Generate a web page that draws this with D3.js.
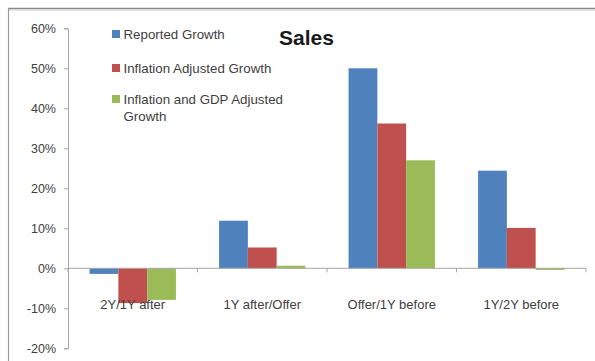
<!DOCTYPE html>
<html>
<head>
<meta charset="utf-8">
<script src="https://cdn.jsdelivr.net/npm/d3@7"></script>
<style>
  html, body { margin: 0; padding: 0; background: #fff; }
  svg { display: block; }
  text { font-family: "Liberation Sans", Arial, sans-serif; fill: #404040; }
</style>
</head>
<body>
<svg id="chart" width="595" height="361"></svg>
<script>
// Sales growth by period
const categories = ["2Y/1Y after", "1Y after/Offer", "Offer/1Y before", "1Y/2Y before"];
const seriesNames = ["Reported Growth", "Inflation Adjusted Growth", "Inflation and GDP Adjusted Growth"];
const reportedGrowth = [-0.014, 0.119, 0.50, 0.244];
const inflationAdjusted = [-0.087, 0.052, 0.362, 0.101];
const inflationGdpAdjusted = [-0.079, 0.0065, 0.27, -0.004];
const yTicks = [-0.2, -0.1, 0, 0.1, 0.2, 0.3, 0.4, 0.5, 0.6];
const colors = ["#4F81BD", "#C0504D", "#9BBB59"];

const values = [reportedGrowth, inflationAdjusted, inflationGdpAdjusted];
const rows = [];
categories.forEach((c, i) => {
  seriesNames.forEach((s, j) => rows.push({ category: c, series: s, value: values[j][i], color: colors[j] }));
});

const svg = d3.select("#chart");

// frame (top and left edges)
svg.append("line").attr("x1", 8).attr("x2", 595).attr("y1", 8.5).attr("y2", 8.5)
  .attr("stroke", "#8a8a8a").attr("stroke-width", 1.5);
svg.append("line").attr("x1", 8.5).attr("x2", 595).attr("y1", 10).attr("y2", 10)
  .attr("stroke", "#d0d0d0").attr("stroke-width", 1);
svg.append("line").attr("x1", 8.5).attr("x2", 8.5).attr("y1", 8).attr("y2", 361)
  .attr("stroke", "#9a9a9a").attr("stroke-width", 1.2);

const plotLeft = 68, plotRight = 586;
const y = d3.scaleLinear().domain([-0.2, 0.6]).range([348.3, 28.3]);
const x0 = d3.scaleBand().domain(categories).range([plotLeft, plotRight]).padding(0);
const x1 = d3.scaleBand().domain(seriesNames).range([0, x0.bandwidth()]).paddingInner(0).paddingOuter(0.75);

// percent labels with a plain hyphen for negatives
const pct = d => `${Math.round(d * 100)}%`;

// y axis
const yAxis = d3.axisLeft(y).tickValues(yTicks).tickFormat(pct).tickSize(4).tickPadding(8);
const gy = svg.append("g").attr("transform", `translate(${plotLeft},0)`).call(yAxis);
gy.select(".domain").attr("stroke", "#a6a6a6");
gy.selectAll(".tick line").attr("stroke", "#a6a6a6");
gy.selectAll(".tick text").style("font-size", "12.5px").attr("fill", "#404040")
  .style("font-family", "'Liberation Sans', Arial, sans-serif");

// bars
svg.append("g").selectAll("rect").data(rows).join("rect")
  .attr("x", d => x0(d.category) + x1(d.series))
  .attr("width", x1.bandwidth())
  .attr("y", d => Math.min(y(d.value), y(0)))
  .attr("height", d => Math.abs(y(d.value) - y(0)))
  .attr("fill", d => d.color);

// category axis along zero
svg.append("line").attr("x1", plotLeft).attr("x2", plotRight).attr("y1", y(0)).attr("y2", y(0))
  .attr("stroke", "#a6a6a6");
const boundaries = categories.map(c => x0(c)).concat([plotRight]);
svg.append("g").selectAll("line").data(boundaries).join("line")
  .attr("x1", d => d).attr("x2", d => d)
  .attr("y1", y(0)).attr("y2", y(0) + 4)
  .attr("stroke", "#a6a6a6");

// category labels
svg.append("g").selectAll("text").data(categories).join("text")
  .attr("x", d => x0(d) + x0.bandwidth() / 2)
  .attr("y", 309)
  .attr("text-anchor", "middle")
  .style("font-size", "13px")
  .text(d => d);

// title
svg.append("text").attr("x", 306.5).attr("y", 45).attr("text-anchor", "middle")
  .style("font-size", "21px").style("font-weight", "bold")
  .style("fill", "#1a1a1a").text("Sales");

// legend
const legendItems = [
  { lines: ["Reported Growth"], cy: 34, color: colors[0] },
  { lines: ["Inflation Adjusted Growth"], cy: 68, color: colors[1] },
  { lines: ["Inflation and GDP Adjusted", "Growth"], cy: 99, color: colors[2] }
];
const lg = svg.append("g");
legendItems.forEach(item => {
  lg.append("rect").attr("x", 112).attr("y", item.cy - 4).attr("width", 8).attr("height", 8).attr("fill", item.color);
  item.lines.forEach((ln, k) => {
    lg.append("text").attr("x", 123.5).attr("y", item.cy + 4.5 + k * 17)
      .style("font-size", "13.3px").text(ln);
  });
});
</script>
</body>
</html>
